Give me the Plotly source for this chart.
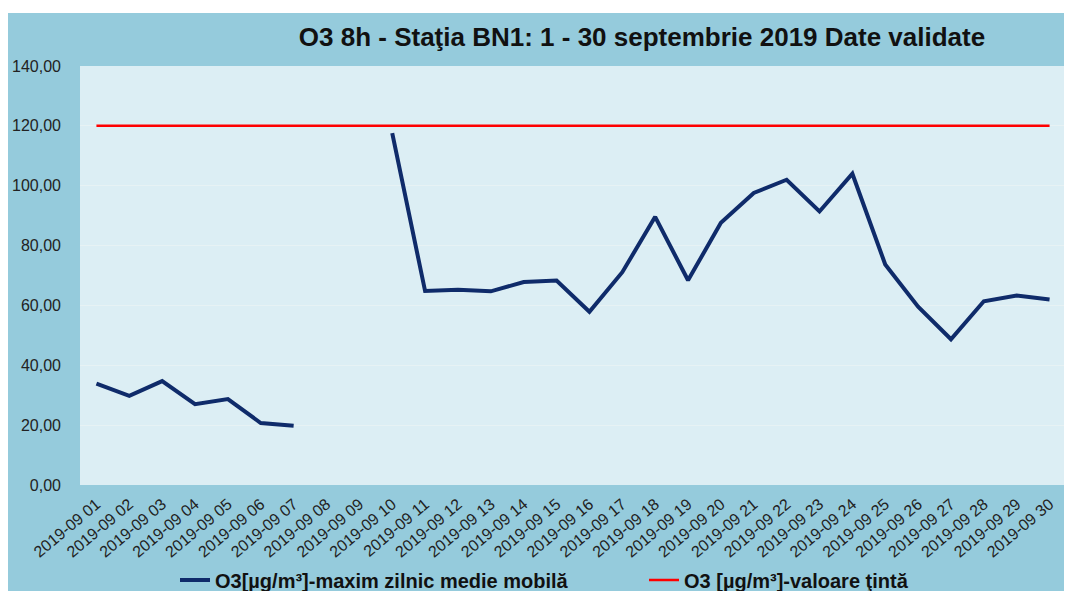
import plotly.graph_objects as go

# data
days = ["2019-09 %02d" % d for d in range(1, 31)]
o3_max_8h = [33.9, 29.8, 34.7, 27.0, 28.7, 20.7, 19.8, None, None, 117.6,
             64.8, 65.2, 64.7, 67.8, 68.3, 57.9, 71.1, 89.6, 68.4, 87.6,
             97.6, 102.0, 91.4, 104.0, 73.7, 59.6, 48.7, 61.4, 63.3, 62.0]
target_value = [120.0] * len(days)
y_ticks = [0, 20, 40, 60, 80, 100, 120, 140]

OUTER_BG = "#95CBDC"
PLOT_BG = "#DCEEF4"

fig = go.Figure()
fig.add_trace(go.Scatter(
    x=days, y=o3_max_8h, mode="lines", connectgaps=False,
    name="<b>O3[µg/m³]-maxim zilnic medie mobilă</b>",
    line=dict(color="#0F2B6A", width=4),
))
fig.add_trace(go.Scatter(
    x=days, y=target_value, mode="lines",
    name="<b>O3 [µg/m³]-valoare ţintă</b>",
    line=dict(color="#FF0000", width=2.5),
))

# the page puts the figure 8px in from the corner: size and positions shifted by -8
FW, FH = 1064, 583
L, T, R, B = 72, 58, 6, 106
W, H = float(FW - L - R), float(FH - T - B)
fig.add_shape(type="rect", xref="paper", yref="paper", layer="below",
              x0=-L / W, x1=(FW - L) / W, y0=-B / H, y1=(FH - B - 5) / H,
              fillcolor=OUTER_BG, line_width=0)
fig.add_shape(type="rect", xref="paper", yref="paper", layer="below",
              x0=0, x1=1, y0=0, y1=1, fillcolor=PLOT_BG, line_width=0)

fig.update_layout(
    width=FW, height=FH,
    margin=dict(l=L, r=R, t=T, b=B, autoexpand=False),
    paper_bgcolor="white", plot_bgcolor=PLOT_BG,
    separators=",.",
    font=dict(family="Liberation Sans, Arial, sans-serif", color="#222222"),
    title=dict(
        text="<b>O3 8h - Staţia BN1: 1 - 30 septembrie 2019 Date validate</b>",
        x=634 / FW, xanchor="center", y=1 - 29 / FH, yanchor="middle",
        font=dict(size=26, color="#111111"),
    ),
    showlegend=True,
    legend=dict(
        orientation="h", x=(167 - L) / W, xanchor="left", y=-(572 - T - H) / H, yanchor="middle",
        bgcolor="rgba(0,0,0,0)", font=dict(size=20, color="#111111"),
        entrywidth=424, entrywidthmode="pixels", itemwidth=30,
    ),
)

fig.update_xaxes(
    type="category", tickangle=-40, tickfont=dict(size=16, color="#222222"),
    showgrid=False, showline=False, ticks="", ticklabelstandoff=6,
    range=[-0.5, len(days) - 0.5], automargin=False,
)
fig.update_yaxes(
    range=[0, 140], tickvals=y_ticks, tickformat=".2f",
    tickfont=dict(size=16, color="#222222"),
    showgrid=True, gridcolor="#E7F2F4", gridwidth=1, zeroline=False,
    showline=False, ticks="", ticklabelstandoff=18, automargin=False,
)

fig.write_html("out.html")
